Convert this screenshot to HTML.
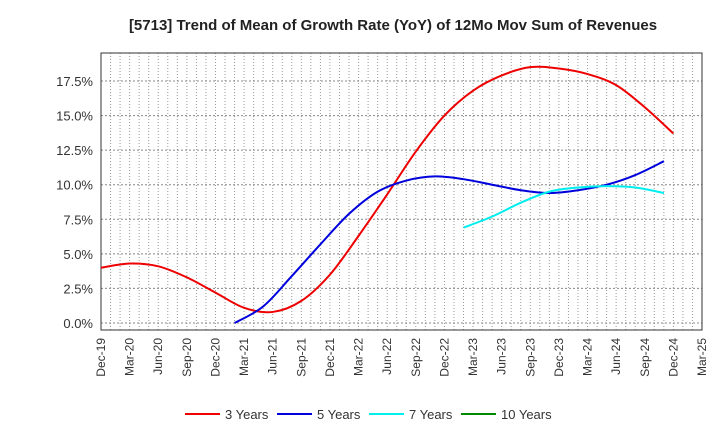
<!DOCTYPE html>
<html><head><meta charset="utf-8"><style>
body{margin:0;background:#fff;font-family:"Liberation Sans",sans-serif}
svg text{font-family:"Liberation Sans",sans-serif}
</style></head><body>
<svg id="c" width="720" height="440">
<text x="393" y="30" text-anchor="middle" font-size="15" font-weight="bold" fill="#222">[5713]  Trend of Mean of Growth Rate (YoY) of 12Mo Mov Sum of Revenues</text>
<g id="grid"></g><g id="axes"></g><g id="series"></g><g id="legend"></g>
</svg>
<script>
const xLabels=["Dec-19","Mar-20","Jun-20","Sep-20","Dec-20","Mar-21","Jun-21","Sep-21","Dec-21","Mar-22","Jun-22","Sep-22","Dec-22","Mar-23","Jun-23","Sep-23","Dec-23","Mar-24","Jun-24","Sep-24","Dec-24","Mar-25"];
const yTicks=[0,2.5,5,7.5,10,12.5,15,17.5];
const s3=[4.0,4.3,4.1,3.3,2.2,1.1,0.8,1.6,3.5,6.3,9.3,12.4,15.0,16.8,17.9,18.5,18.4,18.0,17.2,15.6,13.7];
const s5start=4.67;
const s5=[0.0,1.2,3.4,5.7,7.9,9.5,10.3,10.6,10.4,10.0,9.6,9.4,9.6,10.0,10.7,11.7];
const s7start=12.67;
const s7=[6.9,7.7,8.7,9.5,9.8,9.9,9.8,9.4];
const s10=[];
const NS="http://www.w3.org/2000/svg";
const L=101,R=702,T=53,B=330;
const xs=i=>L+i*(R-L)/(xLabels.length-1);
const ys=v=>323-v*(323-81)/17.5;
function mk(t,a,p){const e=document.createElementNS(NS,t);for(const k in a)e.setAttribute(k,a[k]);p.appendChild(e);return e;}
const g=document.getElementById('grid'),ax=document.getElementById('axes'),se=document.getElementById('series'),lg=document.getElementById('legend');
for(let m=0;m<=(xLabels.length-1)*3;m++){const x=L+m*(R-L)/((xLabels.length-1)*3);
const l=mk('line',{x1:x,x2:x,y1:T,y2:B,stroke:'#999','stroke-dasharray':'1,2','stroke-width':1},g);

}
yTicks.forEach(v=>{const l=mk('line',{x1:L,x2:R,y1:ys(v),y2:ys(v),stroke:'#888','stroke-dasharray':'2,2','stroke-width':1},g);


const t=mk('text',{x:L-8,y:ys(v)+5,'text-anchor':'end','font-size':13,fill:'#333'},ax);t.textContent=v.toFixed(1)+'%';

});
const fr=mk('rect',{x:L,y:T,width:R-L,height:B-T,fill:'none',stroke:'#333','stroke-width':1},ax);


xLabels.forEach((s,i)=>{const t=mk('text',{x:0,y:0,'text-anchor':'end','font-size':12,fill:'#333',transform:`translate(${xs(i)+4},${B+8}) rotate(-90)`},ax);t.textContent=s;

});
function path(arr,start){const p=[];arr.forEach((v,i)=>{if(v!=null)p.push([xs(start+i),ys(v)]);});if(p.length<2)return '';
let d=`M${p[0][0]},${p[0][1]}`;for(let i=0;i<p.length-1;i++){const p0=p[i-1]||p[i],p1=p[i],p2=p[i+1],p3=p[i+2]||p2;
d+=`C${p1[0]+(p2[0]-p0[0])/6},${p1[1]+(p2[1]-p0[1])/6} ${p2[0]-(p3[0]-p1[0])/6},${p2[1]-(p3[1]-p1[1])/6} ${p2[0]},${p2[1]}`;}return d;}
const ser=[[s3,0,'#ee0000','3 Years','series-3-years'],[s5,s5start,'#0000dd','5 Years','series-5-years'],[s7,s7start,'#00eeee','7 Years','series-7-years'],[s10,0,'#008800','10 Years','series-10-years']];
ser.forEach(([a,st,c,n,id])=>{const d=path(a,st);if(d){const p=mk('path',{d:d,fill:'none',stroke:c,'stroke-width':2},se);

}});
const lx=[185,277,369,461];
ser.forEach(([a,st,c,n,id],i)=>{const gg=mk('g',{},lg);


mk('line',{x1:lx[i],x2:lx[i]+35,y1:414,y2:414,stroke:c,'stroke-width':2},gg);
const t=mk('text',{x:lx[i]+40,y:419,'font-size':13,fill:'#333'},gg);t.textContent=n;});
</script>
</body></html>
